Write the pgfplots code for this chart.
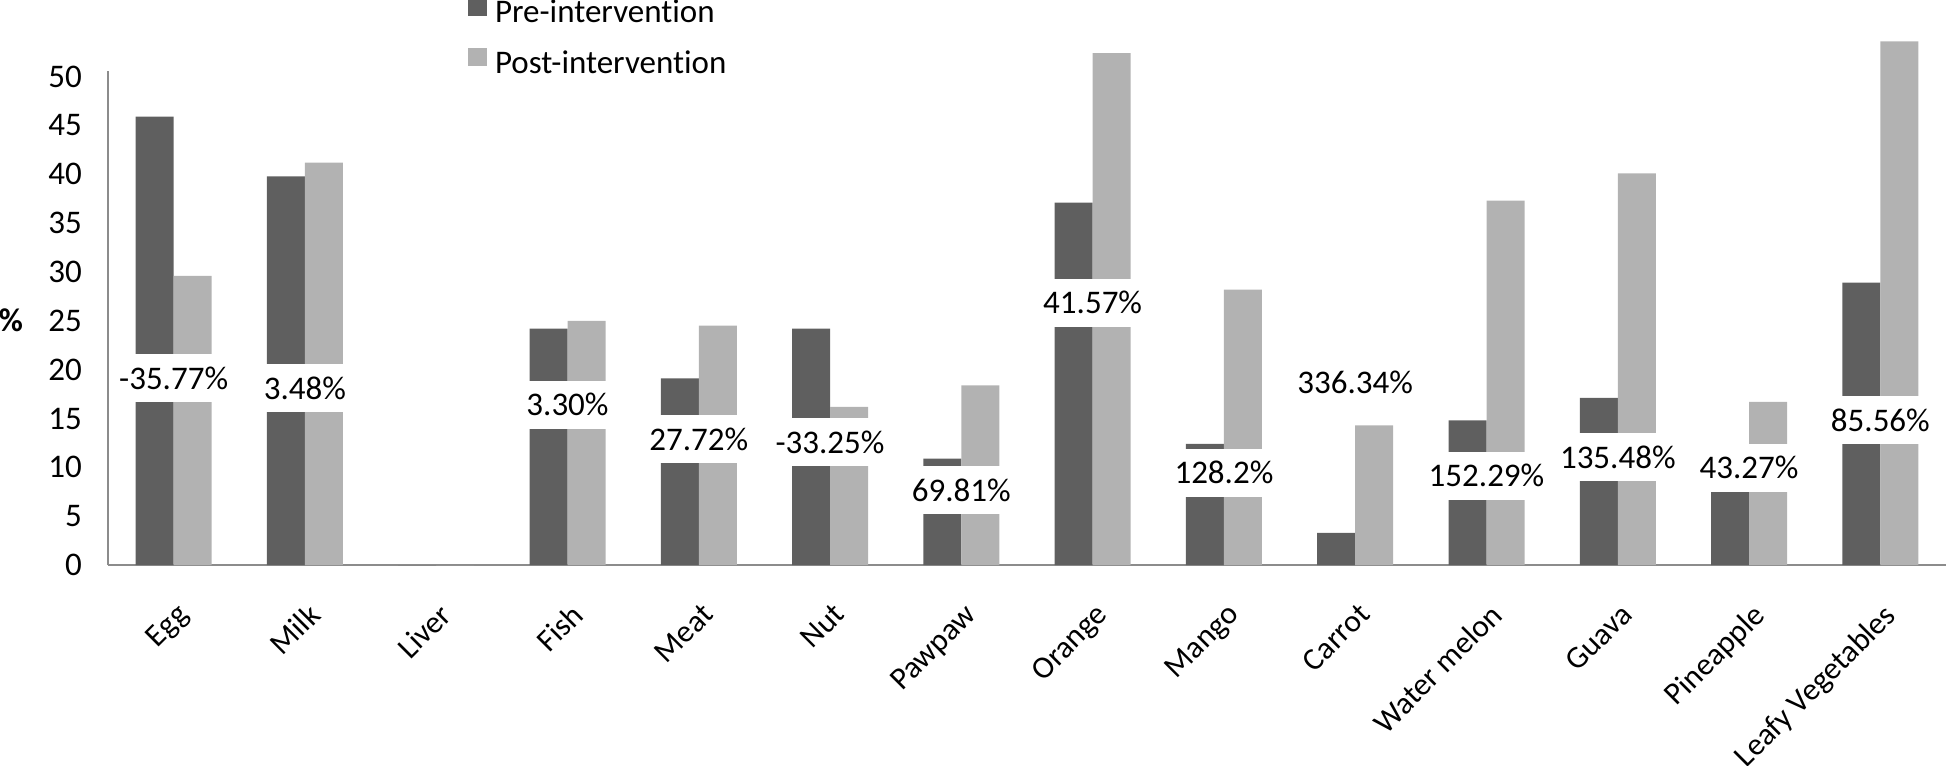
\documentclass[border=0pt]{standalone}
\usepackage{pgfplots}
\pgfplotsset{compat=1.18}
\usepackage{pgfplotstable}
\usepackage{fontspec}
\setmainfont{Carlito}[Ligatures=NoCommon]
\definecolor{predark}{HTML}{5F5F5F}
\definecolor{postlight}{HTML}{B2B2B2}
\definecolor{axgray}{HTML}{8C8C8C}

\pgfplotstableread{
x pre post
0 45.9 29.6
1 39.8 41.2
2 0 0
3 24.2 25.0
4 19.1 24.5
5 24.2 16.2
6 10.9 18.4
7 37.1 52.4
8 12.4 28.2
9 3.3 14.3
10 14.8 37.3
11 17.1 40.1
12 11.7 16.7
13 28.9 53.6
}\foodtable

\pgfplotstableread{
x y label
0 19.1 -35.77\%
1 18.1 3.48\%
3 16.4 3.30\%
4 12.85 27.72\%
5 12.55 -33.25\%
6 7.65 69.81\%
7 26.85 41.57\%
8 9.45 128.2\%
9 18.7 336.34\%
10 9.15 152.29\%
11 11.05 135.48\%
12 9.95 43.27\%
13 14.8 85.56\%
}\labeltable

\begin{document}
\begin{tikzpicture}[font=\fontsize{16.5}{19.5}\selectfont]
\begin{axis}[
  at={(0,0)}, anchor=south west,
  scale only axis, width=919pt, height=247.1pt,
  xmin=-0.5, xmax=13.5, ymin=0, ymax=50.6,
  axis lines*=left,
  axis line style={draw=axgray, line width=1pt},
  xtick={0,...,13},
  xticklabels={Egg,Milk,Liver,Fish,Meat,Nut,Pawpaw,Orange,Mango,Carrot,Water melon,Guava,Pineapple,Leafy Vegetables},
  ytick={0,5,...,50},
  major tick length=0pt,
  tick style={draw=none},
  /pgf/number format/assume math mode=true,
  yticklabel style={font=\fontsize{16.5}{19.5}\selectfont, xshift=-9.5pt},
  xticklabel style={font=\fontsize{15.7}{18.5}\selectfont, rotate=45, anchor=north east, xshift=-8.9pt, yshift=-10.2pt},
  ylabel={\textbf{\%}},
  ylabel style={rotate=-90, at={(axis description cs:-0.0528,0.496)}, anchor=center},
  clip=false,
  legend style={at={(axis description cs:0.196,1.066)}, anchor=west, draw=none, fill=none,
    inner sep=0pt, outer sep=0pt, column sep=4.2pt, row sep=9.5pt,
    nodes={inner sep=0pt, text height=11pt, text depth=3pt, font=\fontsize{16.5}{19.5}\selectfont}},
  legend cell align=left,
]
\addplot[ybar, bar width=19pt, bar shift=-9.5pt, fill=predark, draw=none,
  legend image code/.code={\fill[predark] (0pt,-0.5pt) rectangle (9.2pt,8.7pt);}]
  table[x=x, y=pre]{\foodtable};
\addlegendentry{Pre-intervention}
\addplot[ybar, bar width=19pt, bar shift=9.5pt, fill=postlight, draw=none,
  legend image code/.code={\fill[postlight] (0pt,-0.5pt) rectangle (9.2pt,8.7pt);}]
  table[x=x, y=post]{\foodtable};
\addlegendentry{Post-intervention}
\addplot[forget plot, draw=none, mark=none, nodes near coords, point meta=explicit symbolic,
  every node near coord/.append style={fill=white, anchor=center, minimum width=38pt,
    minimum height=24pt, inner xsep=1pt, inner ysep=0pt, text=black, yshift=0pt,
    font=\fontsize{16.5}{19.5}\selectfont}]
  table[x=x, y=y, meta=label]{\labeltable};
\end{axis}
\pgfresetboundingbox
\path[use as bounding box] (-54pt,-100pt) rectangle (919pt,282.5pt);
\end{tikzpicture}
\end{document}
